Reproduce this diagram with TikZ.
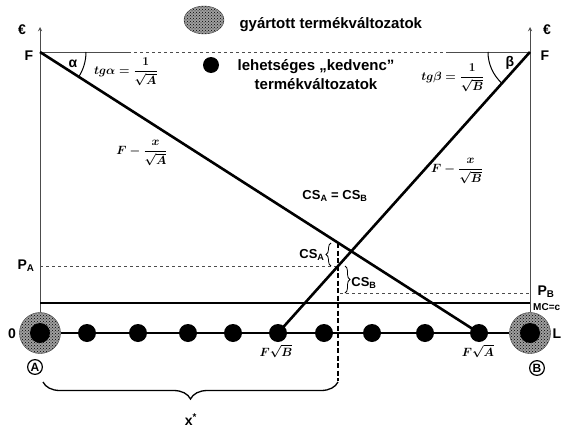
\documentclass[tikz,border=0pt]{standalone}
\usepackage{amsmath}
\usepackage{fontspec}
\setmainfont{Liberation Sans}
\usepackage{tikz}
\usetikzlibrary{shapes.geometric, arrows, patterns, decorations.pathreplacing}

\begin{document}
\begin{tikzpicture}[x=1pt, y=-1pt, font=\bfseries\fontsize{14}{16}\selectfont,
    axis/.style={->, >=stealth, gray!60!black, line width=0.9pt},
    curve/.style={line width=2.6pt},
    guide/.style={dashed, gray!60!black, line width=0.7pt},
    option/.style={circle, fill=black, minimum size=18pt, inner sep=0pt},
    firm/.style={circle, draw=gray!50!black, preaction={fill=gray!75}, pattern=crosshatch dots, minimum size=41pt, inner sep=0pt},
    formula/.style={font=\boldmath\fontsize{13}{15}\selectfont, inner sep=0pt},
    cs/.style={decorate, decoration={brace, amplitude=5pt}, line width=0.8pt},
    firmmark/.style={draw, circle, line width=1.2pt, inner sep=1pt, font=\bfseries\fontsize{12}{13}\selectfont}]
    \useasboundingbox (0,0) rectangle (568,431);
    % legend
    \node[ellipse, draw=gray!50!black, preaction={fill=gray!75}, pattern=crosshatch dots, minimum width=40pt, minimum height=28pt] (made) at (204,20) {};
    \node[anchor=west, font=\bfseries\fontsize{15}{17}\selectfont] (madetext) at (236,25) {gyártott termékváltozatok};
    \node[option, minimum size=16pt] (fav) at (211,65) {};
    \node[align=center, font=\bfseries\fontsize{15}{19}\selectfont] (favtext) at (316,75) {lehetséges „kedvenc”\\termékváltozatok};
    % axes and guides
    \coordinate (FA) at (40,52);
    \coordinate (FB) at (530,52);
    \coordinate (t1) at (128,52);
    \coordinate (t2) at (447,52);
    \coordinate (ya) at (40,27);
    \coordinate (yb) at (530,27);
    \coordinate (pa) at (40,266);
    \coordinate (pa1) at (338,266);
    \coordinate (pb0) at (340,293);
    \coordinate (pb) at (530,293);
    \coordinate (mc0) at (40,303);
    \coordinate (mc1) at (530,303);
    \coordinate (xt) at (338,243);
    \coordinate (xb) at (338,381);
    \draw[gray!60!black, line width=0.8pt] (FA) -- (t1);
    \draw[guide] (t1) -- (t2);
    \draw[gray!60!black, line width=0.8pt] (t2) -- (FB);
    \draw[guide] (pa) -- (pa1);
    \draw[guide] (pb0) -- (pb);
    \node[firm] (A0) at (40,333) {};
    \node[firm] (B0) at (530,333) {};
    \draw[axis] (A0) -- (ya);
    \draw[axis] (B0) -- (yb);
    \draw[line width=2.2pt] (mc0) -- (mc1);
    \draw[line width=1.8pt] (A0) -- (B0);
    % product variants
    \node[option, minimum size=20pt] (d0) at (40,333) {};
    \node[option, minimum size=20pt] (d10) at (530,333) {};
    \foreach \i/\x in {1/87, 2/138, 3/188, 4/233, 5/278, 6/324, 7/372, 8/425, 9/479}
        \node[option] (d\i) at (\x,333) {};
    \draw[curve] (FA) -- (d9.center);
    \draw[curve] (FB) -- (d5.center);
    \draw[line width=1.6pt, dash pattern=on 5pt off 2.5pt] (xt) -- (xb);
    % angles
    \draw[line width=1pt] (86,52) arc[start angle=0, end angle=33, radius=46];
    \draw[line width=1pt] (488,52) arc[start angle=180, end angle=132, radius=42];
    \node (alpha) at (73,64) {α};
    \node (beta) at (510,63) {β};
    \node[formula] (tga) at (126,72) {$tg\alpha=\dfrac{1}{\sqrt{A}}$};
    \node[formula] (tgb) at (453,78) {$tg\beta=\dfrac{1}{\sqrt{B}}$};
    \node[formula] (fa) at (142,153) {$F-\dfrac{x}{\sqrt{A}}$};
    \node[formula] (fb) at (457,171) {$F-\dfrac{x}{\sqrt{B}}$};
    \node[formula] (rootb) at (276,351) {$F\sqrt{B}$};
    \node[formula] (roota) at (478,351) {$F\sqrt{A}$};
    % surpluses
    \draw[cs] (331,266) -- (331,243);
    \draw[cs] (345,266) -- (345,293);
    \node[font=\bfseries\fontsize{13}{15}\selectfont] (csa) at (312,255) {CS\textsubscript{A}};
    \node[font=\bfseries\fontsize{13}{15}\selectfont] (csb) at (364,283) {CS\textsubscript{B}};
    \node[font=\bfseries\fontsize{13}{15}\selectfont] (cseq) at (335,196) {CS\textsubscript{A} = CS\textsubscript{B}};
    \draw[decorate, decoration={brace, amplitude=17pt}, line width=1.3pt] (338,382) -- (43,382);
    \node[inner sep=0pt] (xstar) at (191,420) {x\textsuperscript{*}};
    % labels
    \node (euroa) at (22,30) {€};
    \node (eurob) at (547,30) {€};
    \node (Fa) at (29,56) {F};
    \node (Fb) at (545,56) {F};
    \node (PA) at (26,266) {P\textsubscript{A}};
    \node (PB) at (546,292) {P\textsubscript{B}};
    \node[anchor=west, inner sep=0pt, font=\bfseries\fontsize{10}{11}\selectfont] (mc) at (533,307) {MC=c};
    \node (zero) at (12,334) {0};
    \node (ell) at (557,334) {L};
    \node[firmmark] (mA) at (35,367) {A};
    \node[firmmark] (mB) at (537,368) {B};
\end{tikzpicture}
\end{document}
